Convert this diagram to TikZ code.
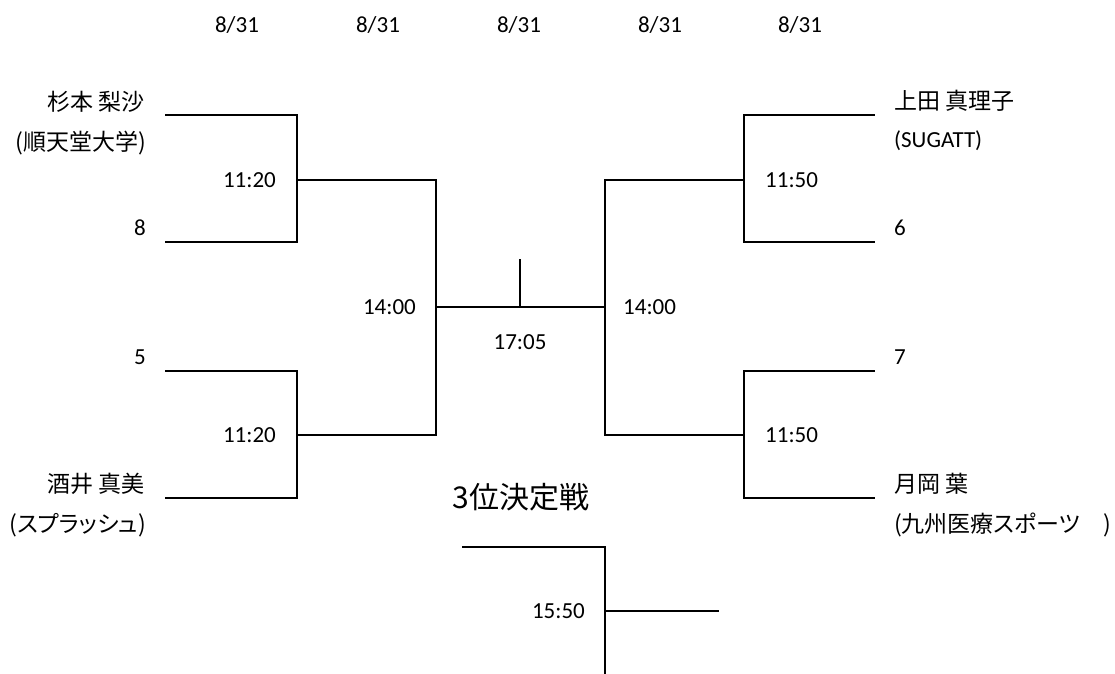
\documentclass[tikz,border=0pt]{standalone}
\usepackage{fontspec}
\setmainfont{Carlito}
\newfontfamily\jp{Noto Sans CJK JP}
\newfontfamily\jpp[RawFeature=+palt]{Noto Sans CJK JP}
\begin{document}
\begin{tikzpicture}[x=1pt,y=-1pt,
  br/.style={line width=1.6pt,line cap=rect},
  lbl/.style={inner sep=0pt,font=\fontsize{23}{26}\selectfont},
  jlbl/.style={inner sep=0pt,font=\jp\fontsize{23}{26}\selectfont},
  plbl/.style={inner sep=0pt,font=\jpp\fontsize{23}{26}\selectfont},
  lft/.style={anchor=east},
  rgt/.style={anchor=west}]
\useasboundingbox (0,0) rectangle (1115,673);
% dates
\foreach \x/\n in {237/d1,378/d2,519/d3,660/d4,800/d5}
  \node[lbl] (\n) at (\x,25) {8/31};
% coordinates of bracket ends
\coordinate (p1) at (166,115); \coordinate (p2) at (166,242);
\coordinate (p3) at (166,371); \coordinate (p4) at (166,498);
\coordinate (q1) at (874,115); \coordinate (q2) at (874,242);
\coordinate (q3) at (874,371); \coordinate (q4) at (874,498);
\coordinate (t1) at (520,260);
\coordinate (b1) at (463,547); \coordinate (b2) at (605,673);
\coordinate (b3) at (718,611);
% left brackets
\draw[br] (p1) -- (297,115) -- (297,242) -- (p2);
\draw[br] (p3) -- (297,371) -- (297,498) -- (p4);
\draw[br] (297,180) -- (436,180) -- (436,435) -- (297,435);
% right brackets
\draw[br] (q1) -- (744,115) -- (744,242) -- (q2);
\draw[br] (q3) -- (744,371) -- (744,498) -- (q4);
\draw[br] (744,180) -- (605,180) -- (605,435) -- (744,435);
% final
\draw[br] (436,307) -- (605,307);
\draw[br] (t1) -- (520,307);
% third place
\draw[br] (b1) -- (605,547) -- (b2);
\draw[br] (605,611) -- (b3);
% left names
\node[jlbl,lft] (n1) at (145,102) {杉本 梨沙};
\node[jlbl,lft] (n1b) at (146,143) {(順天堂大学)};
\node[lbl,lft] (n2) at (146,228) {8};
\node[lbl,lft] (n3) at (146,357) {5};
\node[jlbl,lft] (n4) at (145,484) {酒井 真美};
\node[plbl,lft] (n4b) at (146,525) {(スプラッシュ)};
% right names
\node[jlbl,rgt] (m1) at (894,101) {上田 真理子};
\node[lbl,rgt] (m1b) at (894,141) {(SUGATT)};
\node[lbl,rgt] (m2) at (894,228) {6};
\node[lbl,rgt] (m3) at (894,357) {7};
\node[jlbl,rgt] (m4) at (894,484) {月岡 葉};
\node[plbl,rgt] (m4b) at (894,525) {(九州医療スポーツ　)};
% times
\node[lbl,lft] (s1) at (276,180) {11:20};
\node[lbl,lft] (s2) at (276,435) {11:20};
\node[lbl,rgt] (s3) at (765,180) {11:50};
\node[lbl,rgt] (s4) at (765,435) {11:50};
\node[lbl,lft] (s5) at (416,307) {14:00};
\node[lbl,rgt] (s6) at (623,307) {14:00};
\node[lbl] (s7) at (520,342) {17:05};
\node[lbl,lft] (s8) at (585,611) {15:50};
\node[inner sep=0pt,font=\jp\fontsize{30}{34}\selectfont] (title) at (521,497) {3位決定戦};
\end{tikzpicture}
\end{document}
